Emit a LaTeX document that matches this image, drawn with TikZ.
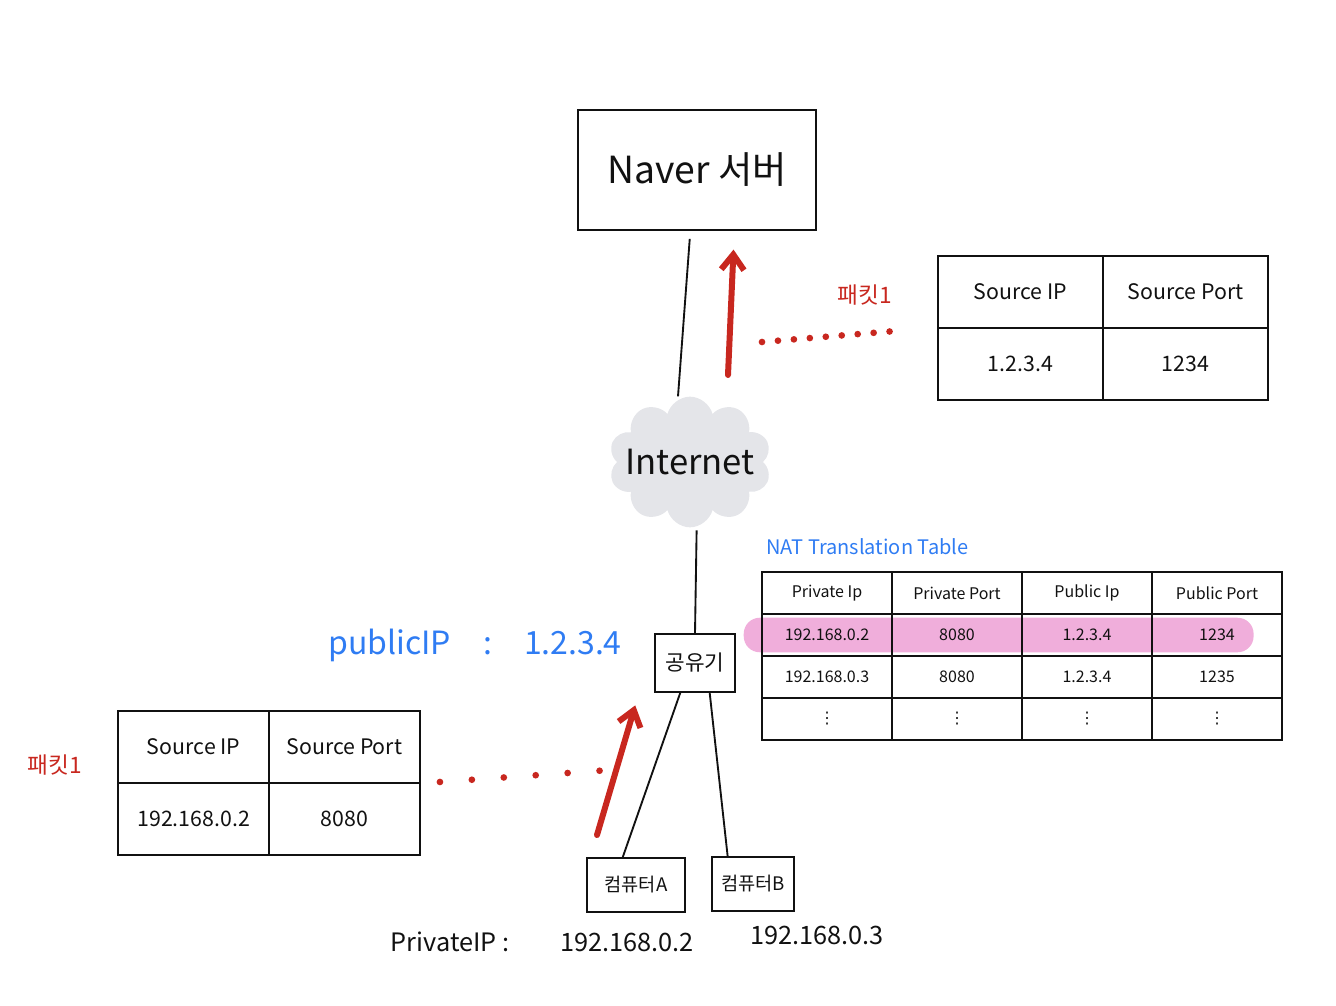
\documentclass[tikz,border=0pt]{standalone}
\usepackage{fontspec}
\setmainfont{Noto Sans CJK KR}
\newfontfamily\symfont{DejaVu Sans}
\usetikzlibrary{arrows.meta,positioning,shapes.symbols,matrix,backgrounds}
\definecolor{ink}{HTML}{111111}
\definecolor{pkt}{HTML}{C8271F}
\definecolor{note}{HTML}{2F7CF3}
\definecolor{hlpink}{HTML}{F0AEDB}
\definecolor{fog}{HTML}{E4E5E9}
\tikzset{
  box/.style={draw=ink, line width=1.4pt, inner sep=0pt, align=center, text=ink},
  cell/.style={draw=ink, line width=1.4pt, inner sep=2pt, text=ink, anchor=center},
  wire/.style={draw=ink, line width=1.4pt},
  flow/.style={-{Straight Barb[length=4mm,width=6mm]}, line width=4.5pt, draw=pkt, line cap=round},
  dots/.style={draw=pkt, line width=5pt, line cap=round, dash pattern=on 0pt off 12pt},
  redlbl/.style={text=pkt, font=\fontsize{17}{20}\selectfont},
  bluelbl/.style={text=note},
  iplbl/.style={text=ink, font=\fontsize{19}{22}\selectfont},
}
\newcommand{\moreRows}{{\symfont ⋮}}

\begin{document}
\begin{tikzpicture}[x=0.75pt, y=-0.75pt, node distance=6pt]
    \useasboundingbox (0,0) rectangle (1336,1006);
    % hosts
    \node[box, minimum width=178pt, minimum height=90pt, font=\fontsize{28}{32}\selectfont] (naver) at (697,170) {Naver 서버};
    \node[cloud, cloud puffs=10, fill=fog, inner sep=0pt, minimum width=122pt, minimum height=98pt,
          label={[name=inetTxt, font=\fontsize{26}{30}\selectfont, text=ink]center:Internet}] (inet) at (690,462) {};
    \node[box, minimum width=60pt, minimum height=43pt, font=\fontsize{16}{18}\selectfont] (router) at (695,663) {공유기};
    \node[box, minimum width=74pt, minimum height=40pt, font=\fontsize{14}{16}\selectfont] (pcA) at (636,885) {컴퓨터A};
    \node[box, minimum width=62pt, minimum height=40pt, font=\fontsize{14}{16}\selectfont] (pcB) at (753,884) {컴퓨터B};
    % packet headers and NAT table
    \matrix (srcTop) at (1103,328) [matrix of nodes, column sep=-1.4pt, row sep=-1.4pt,
        nodes={cell, minimum width=124pt, minimum height=54pt, font=\fontsize{16}{18}\selectfont}] {
      Source IP & Source Port \\
      1.2.3.4 & 1234 \\
    };
    \matrix (srcLeft) at (269,783) [matrix of nodes, column sep=-1.4pt, row sep=-1.4pt,
        nodes={cell, minimum width=113pt, minimum height=54pt, font=\fontsize{16}{18}\selectfont}] {
      Source IP & Source Port \\
      192.168.0.2 & 8080 \\
    };
    \matrix (nat) at (1022,656) [matrix of nodes, column sep=-1.4pt, row sep=-1.4pt,
        nodes={cell, minimum width=97.5pt, minimum height=31.5pt, font=\fontsize{12}{14}\selectfont}] {
      Private Ip & Private Port & Public Ip & Public Port \\
      192.168.0.2 & 8080 & 1.2.3.4 & 1234 \\
      192.168.0.3 & 8080 & 1.2.3.4 & 1235 \\
      \moreRows & \moreRows & \moreRows & \moreRows \\
    };
    \begin{scope}[on background layer]
      \fill[hlpink, rounded corners=12pt] ([xshift=-13pt,yshift=-3.5pt]nat-2-1.north west)
        rectangle ([xshift=-22pt,yshift=3.5pt]nat-2-4.south east);
    \end{scope}
    % labels
    \node[bluelbl, font=\fontsize{15}{18}\selectfont, above right=5pt and 4pt of nat.north west] (natTitle) {NAT Translation Table};
    \node[bluelbl, font=\fontsize{24}{28}\selectfont] (pubIp) at (475,645) {publicIP\quad:\quad1.2.3.4};
    \node[redlbl] (pktTop) at (865,295) {패킷1};
    \node[redlbl] (pktLeft) at (55,765) {패킷1};
    \node[iplbl] (privLbl) at (450,942) {PrivateIP :};
    \node[iplbl] (ipA) at (627,942) {192.168.0.2};
    \node[iplbl] (ipB) at (817,935) {192.168.0.3};
    % links
    \draw[wire, shorten <=6pt] ([xshift=-5pt]naver.south) -- ([xshift=-9pt]inet.north);
    \draw[wire, shorten <=2pt] ([xshift=5pt]inet.south) -- (router.north);
    \draw[wire] ([xshift=-11pt]router.south) -- ([xshift=-10pt]pcA.north);
    \draw[wire] ([xshift=11pt]router.south) -- ([xshift=-19pt]pcB.north);
    % packet flow
    \coordinate (upTop) at (728,375);
    \coordinate (upLow) at (597,835);
    \coordinate (dotTop) at (762,342);
    \coordinate (dotLow) at (610,770);
    \draw[flow, shorten >=14pt] (upTop) -- ([xshift=28pt]naver.south);
    \draw[flow, shorten >=10pt] (upLow) -- ([xshift=-42pt]router.south);
    \draw[dots, shorten >=22pt] (dotTop) -- (srcTop.west);
    \draw[dots, dash pattern=on 0pt off 24pt, shorten <=11pt] (srcLeft.east) -- (dotLow);
  \end{tikzpicture}
\end{document}
